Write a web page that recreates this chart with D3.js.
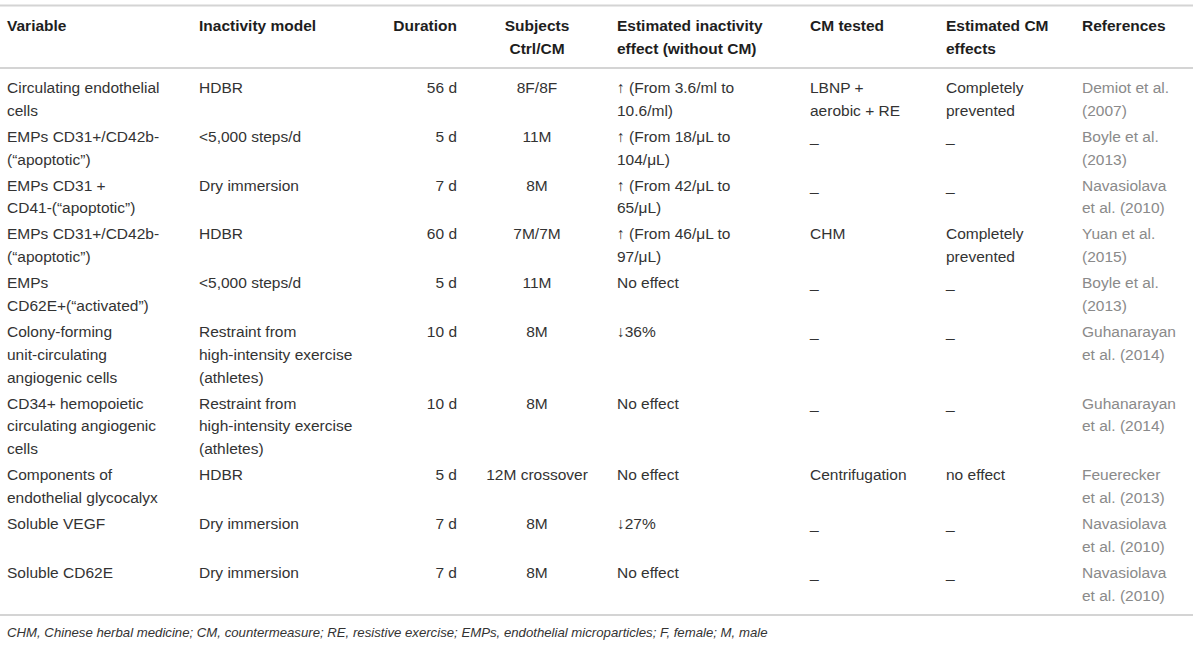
<!DOCTYPE html>
<meta charset="utf-8">
<script src="https://d3js.org/d3.v7.min.js"></script>
<style>
body { margin: 0; background: #fff; }
text { font-family: "Liberation Sans", Arial, sans-serif; }
</style>
<body>
<div id="canvas"></div>
<script>

// column headers (one entry per column, \n = line break)
var headers = ["Variable", "Inactivity model", "Duration", "Subjects\nCtrl/CM",
  "Estimated inactivity\neffect (without CM)", "CM tested", "Estimated CM\neffects", "References"];

// table values, one array per column
var variables = [
  "Circulating endothelial\ncells",
  "EMPs CD31+/CD42b-\n(“apoptotic”)",
  "EMPs CD31 +\nCD41-(“apoptotic”)",
  "EMPs CD31+/CD42b-\n(“apoptotic”)",
  "EMPs\nCD62E+(“activated”)",
  "Colony-forming\nunit-circulating\nangiogenic cells",
  "CD34+ hemopoietic\ncirculating angiogenic\ncells",
  "Components of\nendothelial glycocalyx",
  "Soluble VEGF",
  "Soluble CD62E"
];
var models = [
  "HDBR", "<5,000 steps/d", "Dry immersion", "HDBR", "<5,000 steps/d",
  "Restraint from\nhigh-intensity exercise\n(athletes)",
  "Restraint from\nhigh-intensity exercise\n(athletes)",
  "HDBR", "Dry immersion", "Dry immersion"
];
var durations = ["56 d", "5 d", "7 d", "60 d", "5 d", "10 d", "10 d", "5 d", "7 d", "7 d"];
var subjects = ["8F/8F", "11M", "8M", "7M/7M", "11M", "8M", "8M", "12M crossover", "8M", "8M"];
var effects = [
  "↑ (From 3.6/ml to\n10.6/ml)",
  "↑ (From 18/μL to\n104/μL)",
  "↑ (From 42/μL to\n65/μL)",
  "↑ (From 46/μL to\n97/μL)",
  "No effect", "↓36%", "No effect", "No effect", "↓27%", "No effect"
];
var cmTested = ["LBNP +\naerobic + RE", "_", "_", "CHM", "_", "_", "_", "Centrifugation", "_", "_"];
var cmEffects = ["Completely\nprevented", "_", "_", "Completely\nprevented", "_", "_", "_", "no effect", "_", "_"];
var references = [
  "Demiot et al.\n(2007)", "Boyle et al.\n(2013)", "Navasiolava\net al. (2010)",
  "Yuan et al.\n(2015)", "Boyle et al.\n(2013)", "Guhanarayan\net al. (2014)",
  "Guhanarayan\net al. (2014)", "Feuerecker\net al. (2013)",
  "Navasiolava\net al. (2010)", "Navasiolava\net al. (2010)"
];
var footnote = "CHM, Chinese herbal medicine; CM, countermeasure; RE, resistive exercise; EMPs, endothelial microparticles; F, female; M, male";

var columns = [variables, models, durations, subjects, effects, cmTested, cmEffects, references];

var width = 1200, height = 646;
var fontSize = 15.5, lineH = 22.8, rowPad = 3.2;

// x anchor and alignment per column
var colX = d3.scaleOrdinal().domain(d3.range(8)).range([7, 199, 457, 537, 617, 810, 946, 1082]);
var colAnchor = d3.scaleOrdinal().domain(d3.range(8))
  .range(["start", "start", "end", "middle", "start", "start", "start", "start"]);

var svg = d3.select("#canvas").append("svg")
  .attr("width", width).attr("height", height);

// row baselines from line counts
var nLines = variables.map(function(v, i) {
  return d3.max(columns, function(c) { return c[i].split("\n").length; });
});
var rowY = [];
var y0 = 93;
nLines.forEach(function(n) { rowY.push(y0); y0 += n * lineH + rowPad; });

function hline(y) {
  svg.append("line").attr("x1", 0).attr("x2", 1193)
    .attr("y1", y).attr("y2", y)
    .attr("stroke", "#d4d4d4").attr("stroke-width", 2);
}
hline(5.5);
hline(68);
hline(615);

function cell(str, x, y, anchor, opts) {
  var t = svg.append("text")
    .attr("x", x).attr("y", y)
    .attr("text-anchor", anchor)
    .style("font-size", fontSize + "px")
    .style("font-weight", opts.bold ? "bold" : "normal")
    .attr("fill", opts.color);
  t.selectAll("tspan").data(str.split("\n")).enter()
    .append("tspan")
    .attr("x", x)
    .attr("dy", function(d, i) { return i ? lineH : 0; })
    .text(function(d) { return d; });
}

// header
headers.forEach(function(h, c) {
  cell(h, colX(c), 31, colAnchor(c), { bold: true, color: "#1e1e1e" });
});

// body
columns.forEach(function(col, c) {
  col.forEach(function(v, r) {
    cell(v, colX(c), rowY[r], colAnchor(c), { bold: false, color: c === 7 ? "#8a8a8a" : "#333" });
  });
});

svg.append("text")
  .attr("x", 7).attr("y", 637)
  .style("font-size", "13.2px")
  .style("font-style", "italic")
  .attr("fill", "#333")
  .text(footnote);

</script>
</body>
